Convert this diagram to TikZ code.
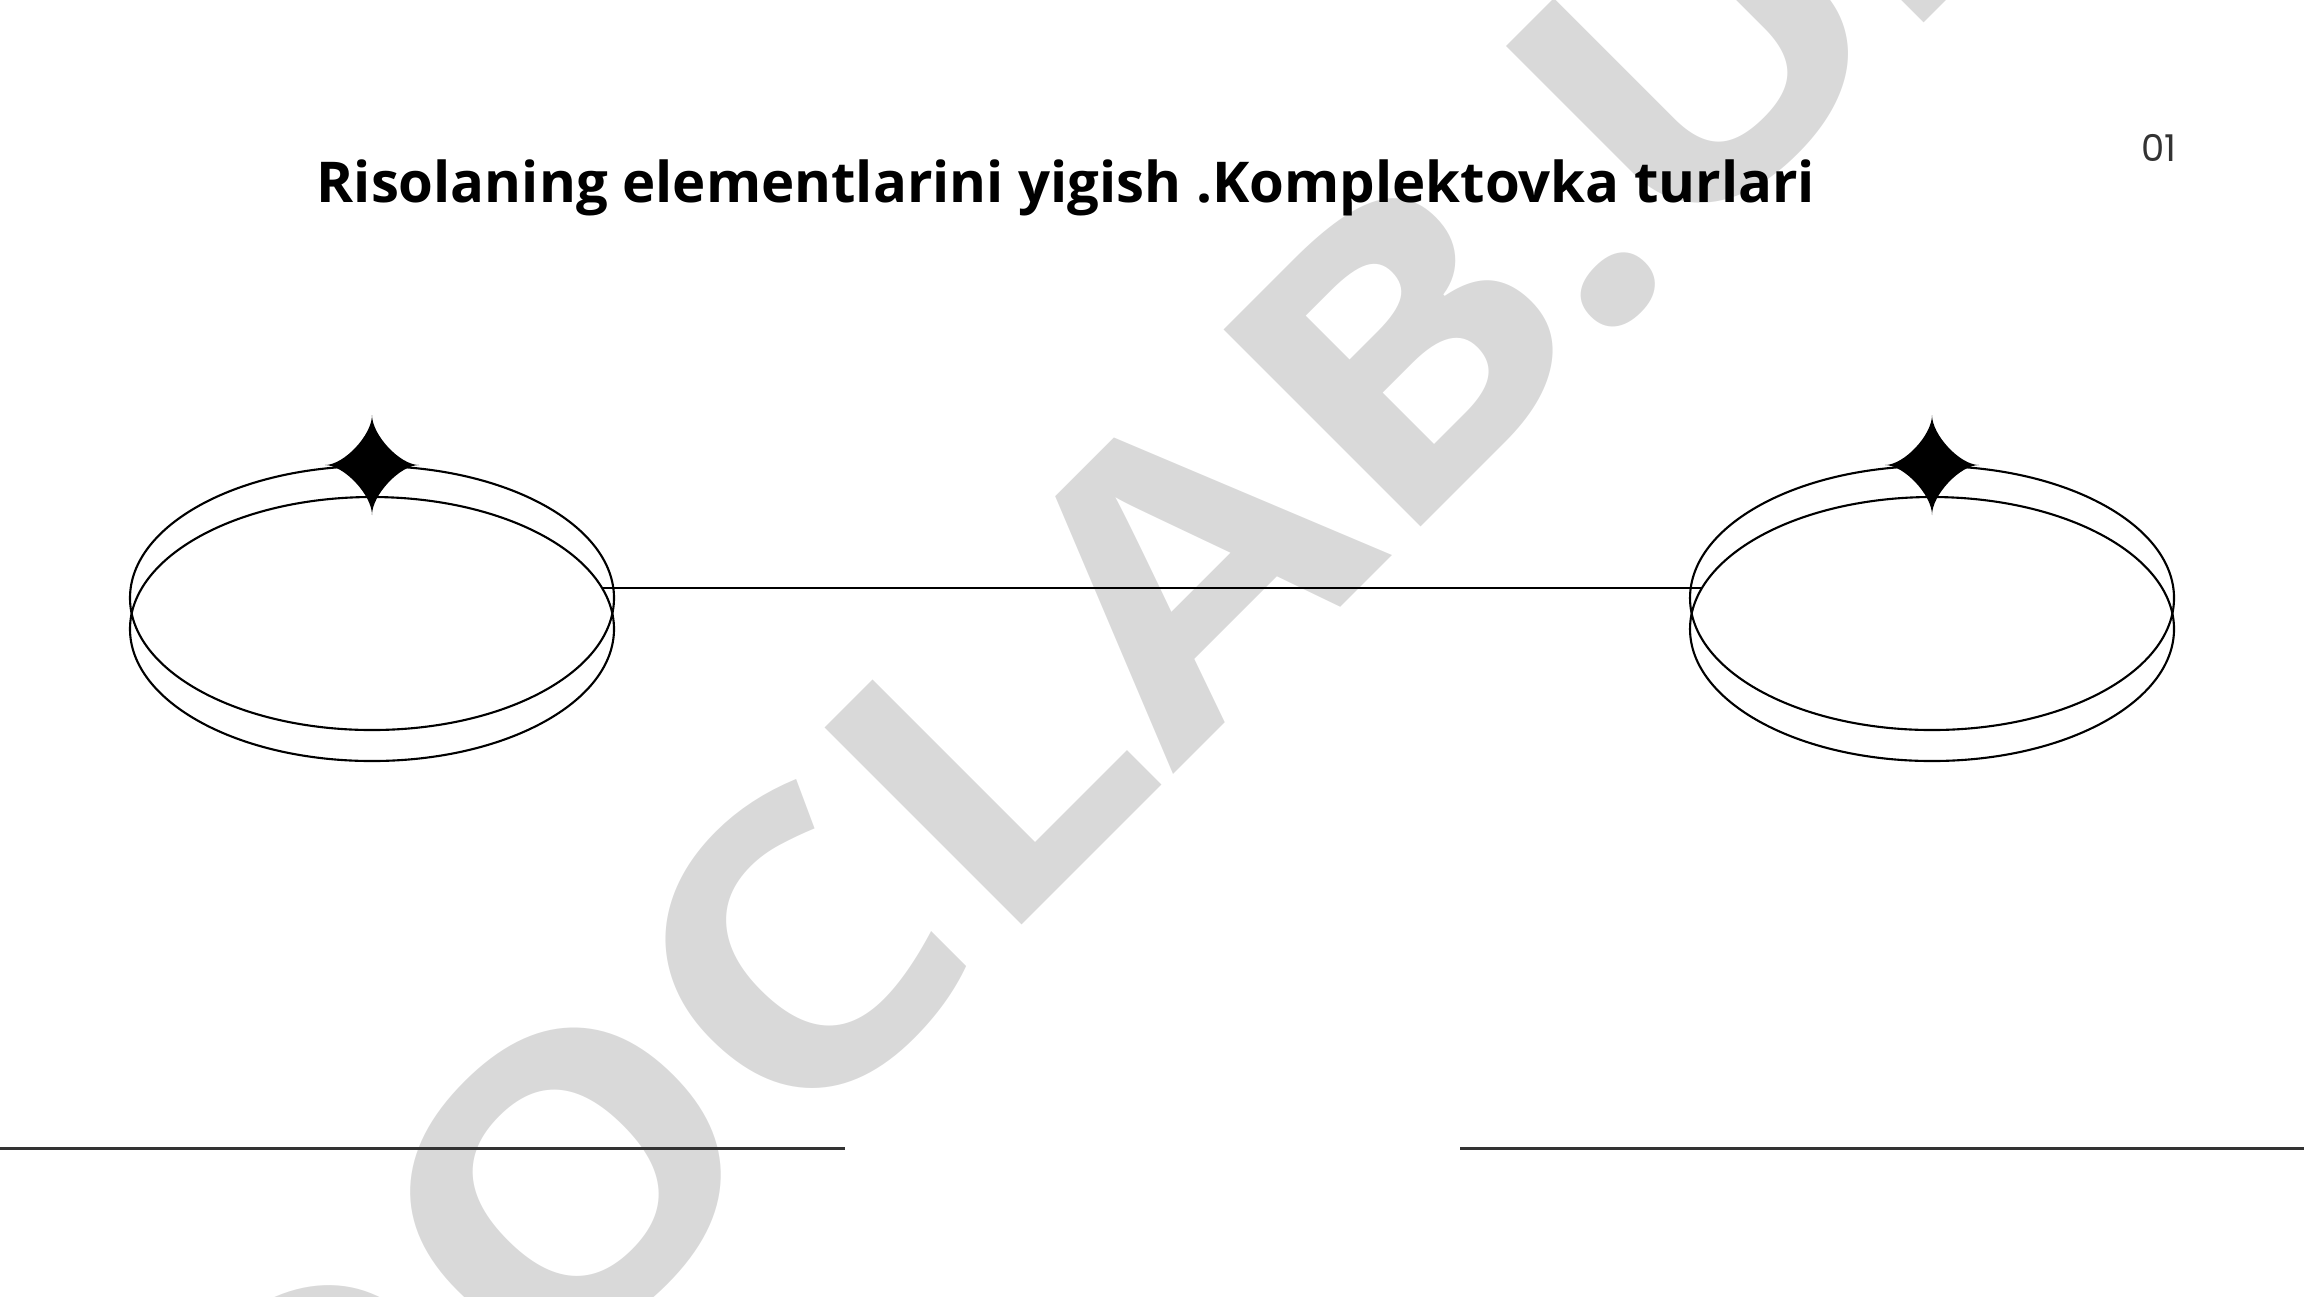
\documentclass[tikz,border=0pt]{standalone}
\usepackage{fontspec}
\setmainfont{Open Sans}
\newfontfamily\numfont{Poppins}
\definecolor{marca}{HTML}{D9D9D9}
\definecolor{linea}{HTML}{333333}
\begin{document}
\begin{tikzpicture}[x=0.01cm,y=-0.01cm,
  borde/.style={line width=0.6pt},
  base/.style={line width=0.85pt,draw=linea}]
\useasboundingbox (0,0) rectangle (2304,1296);
% Marca de agua
\node[rotate=45,xscale=1.15,text=marca,font=\bfseries\fontsize{111}{111}\selectfont] (marca) at (1104,647) {DOCLAB.UZ};
% Titulo
\node[font=\bfseries\fontsize{16}{19}\selectfont] (titulo) at (1066,188) {Risolaning elementlarini yigish .Komplektovka turlari};
\node[font=\numfont\fontsize{10.5}{12}\selectfont,text=linea] (num) at (2159,148) {01};
% Elipses y estrellas
\foreach \cx in {372,1932}{
  \draw[borde] (\cx,598) ellipse [x radius=242,y radius=132];
  \draw[borde] (\cx,629) ellipse [x radius=242,y radius=132];
  \fill (\cx,415) .. controls (\cx,435) and (\cx+28,465) .. (\cx+47,465)
    .. controls (\cx+28,465) and (\cx,495) .. (\cx,515)
    .. controls (\cx,495) and (\cx-28,465) .. (\cx-47,465)
    .. controls (\cx-28,465) and (\cx,435) .. (\cx,415) -- cycle;
}
\coordinate (izq) at (602,588);
\coordinate (der) at (1702,588);
\draw[borde] (izq) -- (der);
% Lineas de abajo
\coordinate (a1) at (0,1148);
\coordinate (a2) at (845,1148);
\coordinate (b1) at (1460,1148);
\coordinate (b2) at (2304,1148);
\draw[base] (a1) -- (a2);
\draw[base] (b1) -- (b2);
\end{tikzpicture}
\end{document}
